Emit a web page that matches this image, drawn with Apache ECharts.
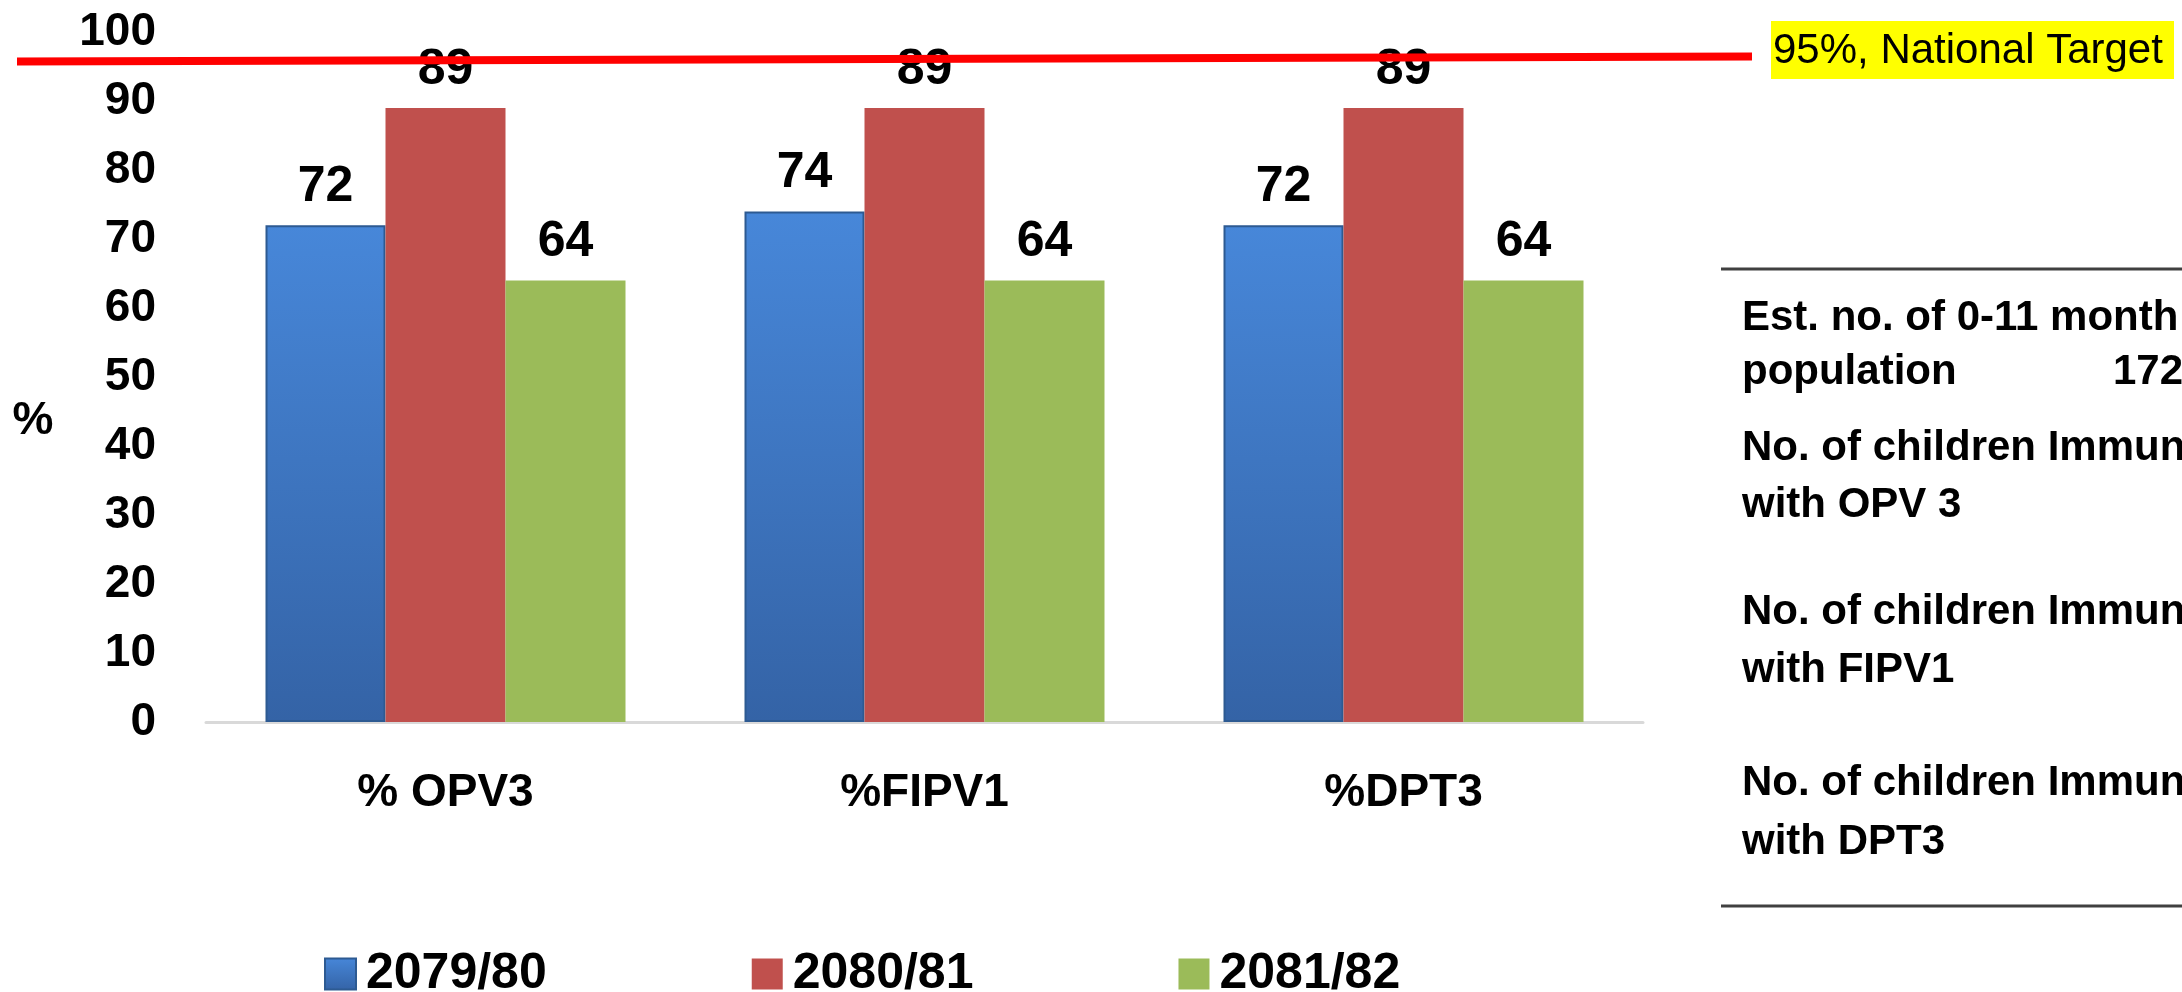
<!DOCTYPE html>
<html>
<head>
<meta charset="utf-8">
<script src="https://cdn.jsdelivr.net/npm/echarts@6/dist/echarts.min.js"></script>
<style>
html,body{margin:0;padding:0;background:#fff;}
#main{width:2182px;height:992px;}
</style>
</head>
<body>
<div id="main"></div>
<script>
// ---- data ----
const categories = ['% OPV3', '%FIPV1', '%DPT3'];
const seriesNames = ['2079/80', '2080/81', '2081/82'];
const values2079 = [72, 74, 72];
const values2080 = [89, 89, 89];
const values2081 = [64, 64, 64];
const yTicks = [0, 10, 20, 30, 40, 50, 60, 70, 80, 90, 100];
const yAxisName = '%';
const targetLabel = '95%, National Target';
const targetLineValue = 96; // where the target line is drawn in the picture
const sideTexts = [
  'Est. no. of 0-11 month',
  'population',
  '172',
  'No. of children Immun',
  'with OPV 3',
  'No. of children Immun',
  'with FIPV1',
  'No. of children Immun',
  'with DPT3'
];

const FONT = "'Liberation Sans', Arial, sans-serif";
const chart = echarts.init(document.getElementById('main'), null, {renderer: 'canvas'});

const blueFill = new echarts.graphic.LinearGradient(0, 0, 0, 1, [
  {offset: 0, color: '#4787d9'},
  {offset: 1, color: '#3463a6'}
]);

const labelCfg = {
  show: true,
  position: 'top',
  distance: 13,
  color: '#000',
  fontFamily: FONT,
  fontWeight: 'bold',
  fontSize: 50
};

chart.setOption({
  animation: false,
  backgroundColor: '#fff',
  grid: {left: 206, right: 539, top: 32, bottom: 270, containLabel: false, outerBoundsMode: 'none'},
  legend: {
    data: seriesNames,
    left: 319,
    top: 944,
    itemWidth: 31,
    itemHeight: 31,
    itemGap: 205,
    icon: 'rect',
    textStyle: {
      fontFamily: FONT, fontWeight: 'bold', fontSize: 50, color: '#000',
      lineHeight: 50, padding: [0, 0, 0, 5]
    }
  },
  xAxis: {
    type: 'category',
    data: categories,
    axisLine: {show: true, lineStyle: {color: '#d9d9d9', width: 3}},
    axisTick: {show: false},
    axisLabel: {
      margin: 48, color: '#000', fontFamily: FONT, fontWeight: 'bold', fontSize: 46
    }
  },
  yAxis: {
    type: 'value',
    min: yTicks[0],
    max: yTicks[yTicks.length - 1],
    interval: yTicks[1] - yTicks[0],
    axisLine: {show: false},
    axisTick: {show: false},
    splitLine: {show: false},
    axisLabel: {
      margin: 50, color: '#000', fontFamily: FONT, fontWeight: 'bold', fontSize: 46
    }
  },
  series: [
    {
      name: seriesNames[0], type: 'bar', data: values2079,
      barWidth: 120, barGap: '0%',
      itemStyle: {color: blueFill, borderColor: '#2d5a92', borderWidth: 2},
      label: labelCfg
    },
    {
      name: seriesNames[1], type: 'bar', data: values2080,
      barWidth: 120, barGap: '0%',
      itemStyle: {color: '#c0504d'},
      label: labelCfg
    },
    {
      name: seriesNames[2], type: 'bar', data: values2081,
      barWidth: 120, barGap: '0%',
      itemStyle: {color: '#9bbb59'},
      label: labelCfg
    }
  ]
});

// target line drawn through the y scale
const yTarget = chart.convertToPixel({yAxisIndex: 0}, targetLineValue);
const sideY = [318, 372, 372, 448, 505, 612, 670, 783, 842];
const sideX = [1742, 1742, 2113, 1742, 1742, 1742, 1742, 1742, 1742];
const graphics = [
  {
    type: 'line', z: 50,
    shape: {x1: 17, y1: yTarget + 2, x2: 1752, y2: yTarget - 3},
    style: {stroke: '#ff0000', lineWidth: 8}
  },
  {
    type: 'rect', z: 50,
    shape: {x: 1771, y: 21, width: 403, height: 58},
    style: {fill: '#ffff00'}
  },
  {
    type: 'text', z: 51, x: 1773, y: 51,
    style: {
      text: targetLabel, fill: '#000', font: "42px 'Liberation Sans', Arial, sans-serif",
      verticalAlign: 'middle', align: 'left'
    }
  },
  {
    type: 'text', x: 33, y: 421,
    style: {
      text: yAxisName, fill: '#000', font: "bold 46px 'Liberation Sans', Arial, sans-serif",
      verticalAlign: 'middle', align: 'center'
    }
  },
  {
    type: 'line', shape: {x1: 1721, y1: 269, x2: 2182, y2: 269},
    style: {stroke: '#404040', lineWidth: 3}
  },
  {
    type: 'line', shape: {x1: 1721, y1: 906, x2: 2182, y2: 906},
    style: {stroke: '#404040', lineWidth: 3}
  }
];
sideTexts.forEach(function (t, i) {
  graphics.push({
    type: 'text', x: sideX[i], y: sideY[i],
    style: {
      text: t, fill: '#000',
      font: "bold 42px 'Liberation Sans', Arial, sans-serif",
      verticalAlign: 'middle', align: 'left'
    }
  });
});
chart.setOption({graphic: graphics});
</script>
</body>
</html>
